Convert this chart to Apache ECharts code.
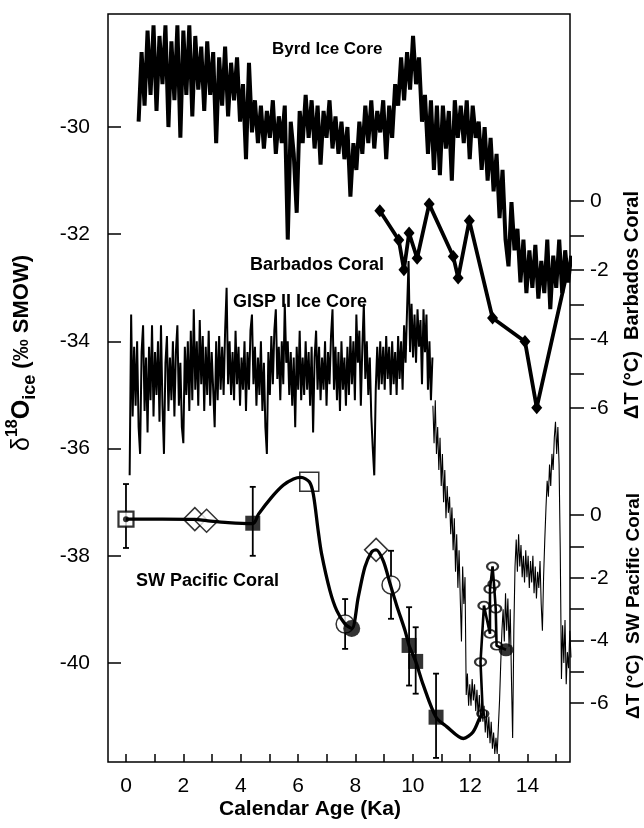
<!DOCTYPE html>
<html><head><meta charset="utf-8">
<script src="https://cdn.jsdelivr.net/npm/echarts@6/dist/echarts.min.js"></script>
<style>html,body{margin:0;padding:0;background:#fff}#c{width:644px;height:828px}</style>
</head><body><div id="c"></div>
<script>
// ---------- axes ----------
const xMin = -0.627, xMax = 15.48;
const xTickValues = [0,1,2,3,4,5,6,7,8,9,10,11,12,13,14,15];
const xLabelValues = [0,2,4,6,8,10,12,14];
const leftMin = -41.85, leftMax = -27.89;
const leftTickValues = [-40,-38,-36,-34,-32,-30];
const barbMin = -16.26, barbMax = 5.42;
const barbTickValues = [0,-1,-2,-3,-4,-5,-6];
const barbLabelValues = [0,-2,-4,-6];
const swMin = -7.88, swMax = 15.99;
const swTickValues = [0,-1,-2,-3,-4,-5,-6];
const swLabelValues = [0,-2,-4,-6];

// ---------- Byrd ice core (d18O per mil, sampled every 0.104 ka from 0.44 ka) ----------
const byrdStart = 0.44, byrdStep = 0.104;
const byrdValues = [
-29.9,-28.6,-29.6,-28.2,-29.4,-28.1,-29.7,-28.3,-29.2,-28.1,
-30.0,-28.4,-29.5,-28.1,-30.2,-28.2,-29.4,-28.1,-29.8,-28.3,
-29.3,-28.5,-29.7,-28.4,-29.4,-28.6,-30.3,-28.7,-29.6,-28.5,
-29.8,-28.8,-29.5,-28.7,-29.9,-29.2,-30.6,-28.8,-30.1,-29.5,
-30.3,-29.6,-30.4,-29.7,-30.2,-29.5,-30.5,-29.8,-30.3,-29.6,
-32.1,-29.9,-30.5,-31.6,-29.7,-30.3,-29.4,-30.2,-29.5,-30.4,
-29.6,-30.7,-29.7,-30.2,-29.5,-30.4,-29.8,-30.5,-29.9,-30.6,
-30.0,-31.3,-30.3,-30.8,-29.9,-30.5,-29.6,-30.3,-29.5,-30.4,
-29.7,-30.1,-29.5,-30.6,-29.6,-30.2,-29.2,-29.6,-28.7,-29.5,
-28.6,-29.3,-28.3,-29.2,-28.7,-29.9,-29.4,-30.5,-29.5,-30.8,
-29.6,-30.9,-29.6,-30.4,-29.7,-31.0,-29.5,-30.2,-29.6,-30.3,
-29.5,-30.6,-29.6,-30.2,-29.9,-30.8,-30.0,-31.0,-30.2,-31.2,
-30.5,-31.7,-30.8,-32.1,-32.6,-31.4,-32.3,-31.9,-32.9,-32.1,
-33.1,-32.3,-33.0,-32.2,-33.2,-32.5,-33.1,-32.1,-33.4,-32.4,
-33.0,-32.1,-33.1,-32.3,-32.9,-32.4
];

// ---------- GISP II ice core (d18O per mil) ----------
const gispStart = 0.128, gispStep = 0.052;
const gispValues = [
-36.5,-33.5,-35.4,-34.1,-35.2,-34.0,-35.6,-36.1,-34.2,-33.7,
-35.3,-34.3,-35.7,-34.1,-35.1,-33.7,-35.4,-34.2,-35.0,-34.0,
-35.5,-33.7,-35.2,-36.1,-34.4,-33.9,-35.3,-34.3,-35.1,-34.0,
-35.4,-34.2,-33.7,-35.2,-34.4,-35.6,-35.9,-34.1,-35.0,-34.0,
-35.3,-33.8,-35.1,-33.4,-34.9,-34.0,-35.2,-33.6,-34.8,-33.9,
-35.3,-34.1,-35.0,-33.8,-35.2,-34.2,-34.9,-35.6,-34.0,-35.1,
-33.9,-34.9,-34.1,-35.0,-33.8,-33.0,-34.8,-34.0,-35.0,-34.2,
-35.1,-33.8,-34.8,-34.1,-35.2,-34.3,-34.9,-34.0,-35.3,-34.2,
-34.9,-33.8,-33.5,-34.8,-34.1,-35.2,-34.3,-35.0,-34.0,-35.3,
-34.4,-35.6,-36.1,-34.2,-35.0,-33.9,-34.8,-33.8,-33.4,-34.7,
-34.1,-35.1,-34.0,-34.8,-33.3,-34.4,-34.0,-35.0,-34.2,-35.2,
-34.3,-35.6,-34.1,-34.9,-33.8,-35.1,-34.3,-35.0,-34.0,-34.9,
-34.2,-35.2,-34.1,-35.7,-34.3,-33.8,-34.9,-34.1,-35.1,-34.3,
-34.9,-34.0,-35.2,-34.2,-34.8,-33.9,-33.4,-34.9,-34.1,-35.1,
-34.2,-35.3,-34.0,-34.9,-34.3,-35.2,-34.1,-35.0,-33.9,-34.8,
-34.0,-35.1,-33.5,-34.4,-33.8,-35.2,-34.1,-33.3,-34.7,-34.0,
-35.0,-34.3,-35.4,-36.0,-36.5,-34.9,-34.1,-34.9,-34.0,-34.8,
-34.1,-34.9,-33.9,-34.7,-34.1,-35.0,-34.0,-34.8,-34.2,-35.0,
-33.9,-34.7,-34.0,-34.9,-33.7,-34.4,-33.4,-32.5,-34.2,-33.3,
-34.3,-33.5,-34.4,-33.4,-34.1,-33.6,-34.8,-33.4,-34.2,-33.5,
-34.9,-34.0,-35.1,-34.3
];
const gispLateStart = 10.70, gispLateStep = 0.0415;
const gispLateValues = [
-35.2,-35.9,-35.1,-36.1,-35.6,-36.4,-35.8,-36.7,-36.1,-37.0,
-36.4,-37.3,-36.7,-37.2,-36.9,-37.6,-37.1,-37.9,-37.3,-38.3,
-37.6,-38.6,-37.9,-38.8,-39.6,-38.2,-38.9,-38.4,-40.6,-40.2,
-40.8,-40.4,-40.8,-40.3,-40.7,-40.4,-40.9,-40.5,-41.0,-40.6,
-41.1,-40.7,-41.1,-40.8,-41.3,-40.9,-41.4,-41.0,-41.5,-41.1,
-41.6,-41.3,-41.7,-41.4,-41.7,-41.2,-40.7,-40.0,-39.4,-39.0,
-39.6,-38.7,-39.4,-38.8,-39.7,-39.0,-40.3,-41.4,-39.4,-38.2,
-37.7,-38.3,-37.6,-38.2,-37.8,-38.4,-38.0,-38.5,-37.9,-38.4,
-38.0,-38.6,-38.1,-38.5,-38.0,-38.7,-38.2,-38.8,-38.3,-38.6,
-38.1,-38.9,-39.4,-38.4,-37.7,-37.1,-36.6,-36.9,-36.3,-36.7,
-36.1,-36.4,-35.8,-35.5,-36.1,-35.6,-36.3,-37.9,-40.3,-39.3,
-40.0,-39.2,-40.4,-39.8,-40.1,-39.4,-39.9
];

// ---------- Barbados coral (dT, °C) ----------
const barbados = [
[8.85,-0.28],[9.51,-1.13],[9.69,-1.99],[9.87,-0.93],[10.15,-1.66],[10.57,-0.09],[11.41,-1.61],
[11.58,-2.23],[11.97,-0.57],[12.78,-3.39],[13.91,-4.07],[14.32,-5.99],[15.45,-1.8]
];

// ---------- SW Pacific coral (dT, °C) ----------
const swPath = [
[0,-0.13],[1.27,-0.13],[2.40,-0.14],[2.81,-0.18],[3.56,-0.24],[4.42,-0.27],[4.62,0.03],[5.06,0.55],
[5.48,0.95],[5.84,1.15],[6.10,1.2],[6.39,1.06],[6.53,0.67],[6.70,-0.5],[6.82,-1.24],[7.11,-2.41],
[7.35,-3.05],[7.64,-3.48],[7.87,-3.62],[8.10,-2.61],[8.33,-1.66],[8.56,-1.18],[8.72,-1.11],[8.97,-1.46],
[9.21,-2.2],[9.44,-2.89],[9.73,-3.69],[9.87,-4.16],[10.10,-4.67],[10.36,-5.41],[10.81,-6.45],[11.18,-6.75],
[11.76,-7.13],[12.10,-6.92],[12.34,-6.46],[12.44,-6.34]
];
const swLate = [
[12.44,-6.34],[12.36,-4.69],[12.48,-2.89],[12.69,-3.79],[12.69,-2.36],[12.78,-1.64],[12.83,-2.2],
[12.89,-2.99],[12.92,-4.17],[13.25,-4.3]
];
const swOpenSquareDot = [[0,-0.13]];
const swOpenDiamond = [[2.40,-0.13],[2.81,-0.18],[8.72,-1.11]];
const swFilledSquare = [[4.42,-0.26],[9.87,-4.16],[10.10,-4.67],[10.81,-6.45]];
const swBigOpenSquare = [[6.39,1.06]];
const swOpenCircle = [[7.64,-3.48],[9.24,-2.23]];
const swFilledCircle = [[7.87,-3.62]];
const swSmallOpenCircle = [[12.44,-6.34],[12.36,-4.69],[12.48,-2.89],[12.69,-3.79],[12.69,-2.36],[12.78,-1.64],[12.83,-2.2],[12.89,-2.99],[12.92,-4.17]];
const swSmallFilledCircle = [[13.25,-4.3]];
// error bars: [age, low, high]
const swErrors = [
[0,-1.05,0.99],[4.42,-1.3,0.9],[7.64,-4.27,-2.68],[9.24,-3.31,-1.14],
[9.87,-5.44,-2.94],[10.10,-5.70,-3.58],[10.81,-7.75,-5.06]
];

// ---------- chart ----------
const F = '"Liberation Sans", Arial, Helvetica, sans-serif';
const ages = (start, step, vals) => vals.map((v, i) => [+(start + i * step).toFixed(3), v]);
const black = '#000';

const chart = echarts.init(document.getElementById('c'));
const tickStyle = {color: black, width: 1.5};
const labelStyle = {color: black, fontSize: 21, fontFamily: F};

const barbData = barbados.map((p, i) => i === barbados.length - 1 ? {value: p, symbol: 'none'} : p);

const option = {
  animation: false,
  backgroundColor: '#fff',
  grid: {left: 108, right: 74, top: 14, bottom: 66, show: true, borderColor: black, borderWidth: 1.5},
  xAxis: {
    type: 'value', min: xMin, max: xMax,
    axisLine: {show: false, onZero: false}, splitLine: {show: false},
    axisTick: {show: true, inside: true, length: 8, lineStyle: tickStyle, customValues: xTickValues},
    axisLabel: Object.assign({customValues: xLabelValues, margin: 14}, labelStyle)
  },
  yAxis: [
    {
      type: 'value', position: 'left', min: leftMin, max: leftMax,
      axisLine: {show: false, onZero: false}, splitLine: {show: false},
      axisTick: {show: true, inside: true, length: 13, lineStyle: tickStyle, customValues: leftTickValues},
      axisLabel: Object.assign({customValues: leftTickValues, margin: 18}, labelStyle)
    },
    {
      type: 'value', position: 'right', min: barbMin, max: barbMax,
      axisLine: {show: false, onZero: false}, splitLine: {show: false},
      axisTick: {show: true, inside: false, length: 14, lineStyle: tickStyle, customValues: barbTickValues},
      axisLabel: Object.assign({customValues: barbLabelValues, margin: 20}, labelStyle)
    },
    {
      type: 'value', position: 'right', min: swMin, max: swMax,
      axisLine: {show: false, onZero: false}, splitLine: {show: false},
      axisTick: {show: true, inside: false, length: 14, lineStyle: tickStyle, customValues: swTickValues},
      axisLabel: Object.assign({customValues: swLabelValues, margin: 20}, labelStyle)
    }
  ],
  graphic: [
    {type: 'text', x: 272, y: 49, style: {text: 'Byrd Ice Core', font: 'bold 17px ' + F, fill: black, textVerticalAlign: 'middle'}},
    {type: 'text', x: 250, y: 265, style: {text: 'Barbados Coral', font: 'bold 18px ' + F, fill: black, textVerticalAlign: 'middle'}},
    {type: 'text', x: 233, y: 302, style: {text: 'GISP II Ice Core', font: 'bold 18px ' + F, fill: black, textVerticalAlign: 'middle'}},
    {type: 'text', x: 136, y: 581, style: {text: 'SW Pacific Coral', font: 'bold 18px ' + F, fill: black, textVerticalAlign: 'middle'}},
    {type: 'text', x: 310, y: 809, style: {text: 'Calendar Age (Ka)', font: 'bold 21px ' + F, fill: black, textAlign: 'center', textVerticalAlign: 'middle'}},
    {type: 'text', x: 632, y: 305, rotation: Math.PI / 2,
     style: {text: 'ΔT (°C)  Barbados Coral', font: 'bold 20px ' + F, fill: black, textAlign: 'center', textVerticalAlign: 'middle'}},
    {type: 'text', x: 634, y: 606, rotation: Math.PI / 2,
     style: {text: 'ΔT (°C)  SW Pacific Coral', font: 'bold 19px ' + F, fill: black, textAlign: 'center', textVerticalAlign: 'middle'}},
    {type: 'text', x: 22, y: 353, rotation: Math.PI / 2,
     style: {
       text: '{d|δ}{sup|18}{o|O}{sub|ice}{r| (‰ SMOW)}',
       textAlign: 'center', textVerticalAlign: 'middle', fill: black,
       rich: {
         d: {fontSize: 25, fontFamily: F, lineHeight: 34, verticalAlign: 'middle'},
         sup: {fontSize: 16, fontWeight: 'bold', fontFamily: F, lineHeight: 16, verticalAlign: 'top'},
         o: {fontSize: 25, fontWeight: 'bold', fontFamily: F, lineHeight: 34, verticalAlign: 'middle'},
         sub: {fontSize: 18, fontWeight: 'bold', fontFamily: F, lineHeight: 18, verticalAlign: 'bottom'},
         r: {fontSize: 22, fontWeight: 'bold', fontFamily: F, lineHeight: 34, verticalAlign: 'middle'}
       }
     }}
  ],
  series: [
    {name: 'Byrd', type: 'line', yAxisIndex: 0, data: ages(byrdStart, byrdStep, byrdValues),
     symbol: 'none', lineStyle: {color: black, width: 4}},
    {name: 'GISP II', type: 'line', yAxisIndex: 0, data: ages(gispStart, gispStep, gispValues),
     symbol: 'none', lineStyle: {color: black, width: 2}},
    {name: 'GISP II late', type: 'line', yAxisIndex: 0, data: ages(gispLateStart, gispLateStep, gispLateValues),
     symbol: 'none', lineStyle: {color: black, width: 1.1}},
    {name: 'Barbados', type: 'line', yAxisIndex: 1, data: barbData,
     symbol: 'diamond', symbolSize: [11, 13], itemStyle: {color: black}, lineStyle: {color: black, width: 3.8}},
    {name: 'SW path', type: 'line', yAxisIndex: 2, data: swPath, smooth: 0.3,
     symbol: 'none', lineStyle: {color: black, width: 3.3}},
    {name: 'SW late', type: 'line', yAxisIndex: 2, data: swLate,
     symbol: 'none', lineStyle: {color: black, width: 2.6}},
    {name: 'SW errors', type: 'custom', yAxisIndex: 2, data: swErrors,
     encode: {x: 0, y: [1, 2]},
     renderItem: function (params, api) {
       const x = api.value(0);
       const lo = api.coord([x, api.value(1)]);
       const hi = api.coord([x, api.value(2)]);
       const st = {stroke: black, lineWidth: 1.8};
       return {type: 'group', children: [
         {type: 'line', shape: {x1: hi[0], y1: hi[1], x2: lo[0], y2: lo[1]}, style: st},
         {type: 'line', shape: {x1: hi[0] - 3, y1: hi[1], x2: hi[0] + 3, y2: hi[1]}, style: st},
         {type: 'line', shape: {x1: lo[0] - 3, y1: lo[1], x2: lo[0] + 3, y2: lo[1]}, style: st}
       ]};
     }},
    {type: 'scatter', yAxisIndex: 2, data: swOpenSquareDot, symbol: 'rect', symbolSize: 15,
     itemStyle: {color: '#fff', borderColor: black, borderWidth: 2.2}},
    {type: 'scatter', yAxisIndex: 2, data: swOpenSquareDot, symbol: 'circle', symbolSize: 6,
     itemStyle: {color: black}},
    {type: 'scatter', yAxisIndex: 2, data: swOpenDiamond, symbol: 'diamond', symbolSize: 23,
     itemStyle: {color: '#fff', borderColor: black, borderWidth: 1.5}},
    {type: 'scatter', yAxisIndex: 2, data: swFilledSquare, symbol: 'rect', symbolSize: 15,
     itemStyle: {color: black}},
    {type: 'scatter', yAxisIndex: 2, data: swBigOpenSquare, symbol: 'rect', symbolSize: 19,
     itemStyle: {color: '#fff', borderColor: black, borderWidth: 1.5}},
    {type: 'scatter', yAxisIndex: 2, data: swOpenCircle, symbol: 'circle', symbolSize: 18,
     itemStyle: {color: '#fff', borderColor: black, borderWidth: 1.5}},
    {type: 'scatter', yAxisIndex: 2, data: swFilledCircle, symbol: 'circle', symbolSize: 17,
     itemStyle: {color: black}},
    {type: 'scatter', yAxisIndex: 2, data: swSmallOpenCircle, symbol: 'circle', symbolSize: [11, 8],
     itemStyle: {color: '#fff', borderColor: black, borderWidth: 2}},
    {type: 'scatter', yAxisIndex: 2, data: swSmallFilledCircle, symbol: 'circle', symbolSize: [15, 13],
     itemStyle: {color: black}}
  ]
};
chart.setOption(option);
</script></body></html>
